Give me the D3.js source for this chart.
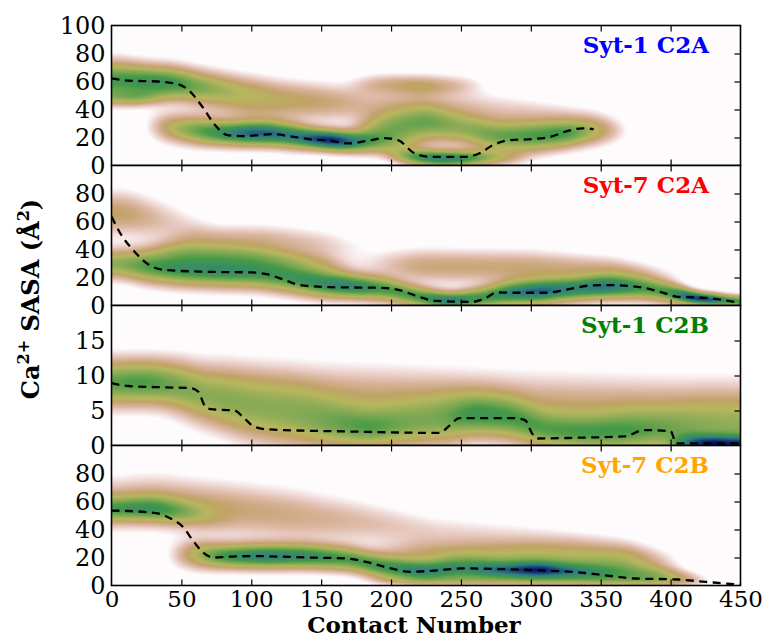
<!DOCTYPE html>
<html><head><meta charset="utf-8">
<script src="https://cdn.jsdelivr.net/npm/d3@7"></script>
<style>body{margin:0;background:#fff} svg{display:block} text{font-family:"DejaVu Serif",serif}</style>
</head><body><svg id="c" width="762" height="639"></svg>
<script>
// ---------------- data ----------------
const xTickValues = [0, 50, 100, 150, 200, 250, 300, 350, 400, 450];
const panelNames = ["Syt-1 C2A", "Syt-7 C2A", "Syt-1 C2B", "Syt-7 C2B"];
const panelColors = ["#0000ff", "#ff0000", "#008000", "#ffa500"];
const panelYMax = [100, 100, 20, 100];
const panelYLabels = [[0, 20, 40, 60, 80, 100], [0, 20, 40, 60, 80], [0, 5, 10, 15], [0, 20, 40, 60, 80]];
const panelYInner = [[20, 40, 60, 80], [20, 40, 60, 80], [5, 10, 15], [20, 40, 60, 80]];

// dashed curves [contact number, SASA]
const lineS1C2A = [[0,62.3],[12,60.6],[33,60],[47,58.2],[55,54],[65,42],[74,29],[83,21.7],[95,21],[115,22.4],[127,21],[141,18.9],[156,17.7],[170,15.8],[182,17.4],[195,19.6],[205,18.1],[217,8.6],[229,6.2],[252,6.2],[263,8.6],[273,14.6],[285,18.1],[302,18.9],[314,20.5],[326,24.6],[337,26.5],[345,26]];
const lineS7C2A = [[0,63.5],[7,50.4],[15.5,39.6],[27,28.9],[39,25.3],[68,24.1],[100,23.6],[112,22.2],[124,18.1],[135,14.6],[156,13.1],[194,12.6],[206,11],[220,6.2],[232,3.3],[258,2.6],[267,5],[276,9.3],[288,9.1],[311,9.1],[326,11.5],[343,14.3],[355,14.6],[381,12.6],[396,8.6],[405,6.2],[425,5.5],[446,2.6],[450,2]];
const lineS1C2B = [[0,8.9],[12,8.5],[39,8.3],[56,8.2],[62,7.7],[67,5.6],[71,5.2],[88,5.0],[94,4.1],[102,2.7],[112,2.3],[170,2.0],[235,1.8],[241,2.7],[249,3.9],[258,3.9],[288,3.9],[296,3.6],[301,1.7],[305,1.0],[331,1.1],[367,1.3],[381,2.2],[400,2.05],[404,0.3],[450,0.3]];
const lineS7C2B = [[0,53.5],[12,53.2],[33,51.5],[42,48],[51,42],[58,32.5],[65,24],[73,20],[83,20.5],[100,21],[141,20],[168,19.3],[182,16.9],[197,12.9],[214,9.8],[229,10.5],[252,12.2],[279,11.7],[302,11],[337,9.1],[352,7.4],[375,5],[405,4.3],[425,2.6],[446,1],[450,0.8]];

// density ridges: knots [contact number, centre SASA, spread SASA, density level 0..1]
const densS1C2A = [
  [[-10,62,9,0.5],[5,61,9,0.58],[25,60,8,0.62],[45,59,8,0.6],[65,56,8,0.45],[90,53,8,0.3],[120,50,8,0.17],[160,46,8,0.09],[190,42,6,0]],
  [[-5,48,4,0],[5,49,4,0.3],[20,49,4,0.35],[35,50,4,0.15],[45,50,4,0]],
  [[25,28,7,0],[40,27,7,0.3],[60,25,7,0.5],[80,23,6,0.65],[100,23,6,0.82],[115,23,6,0.8],[130,21,6,0.7],[145,19,5,0.85],[158,18,5,0.98],[172,17,5,0.75],[190,18,6,0.45],[210,18,7,0.2],[230,18,7,0]],
  [[195,9,4,0],[215,6,4,0.55],[235,5,4,0.75],[255,5,4,0.6],[275,6,4,0.3],[300,6,4,0]],
  [[170,26,8,0],[195,28,9,0.4],[225,31,9,0.5],[250,27,8,0.4],[275,21,8,0.5],[300,21,8,0.55],[325,23,7,0.6],[345,25,7,0.35],[370,25,6,0]],
  [[165,57,5,0],[190,58,5,0.17],[222,57,5,0.26],[250,57,5,0.13],[270,57,5,0]],
  [[50,45,8,0],[100,42,9,0.16],[150,44,9,0.14],[200,44,8,0.12],[260,41,8,0.12],[320,37,6,0.08],[360,35,5,0]]
];
const densS7C2A = [
  [[-10,66,10,0.25],[10,66,10,0.25],[30,62,10,0.16],[55,58,8,0.07],[75,55,6,0]],
  [[30,46,6,0],[60,47,7,0.17],[110,47,7,0.17],[150,44,7,0.12],[190,40,6,0]],
  [[-10,29,7,0.3],[5,30,7,0.42],[25,28,8,0.55],[50,26,8,0.62],[80,25,8,0.65],[105,24,8,0.6],[125,21,8,0.58],[150,16,7,0.66],[170,14,6,0.72],[195,12,6,0.55],[220,6,5,0.55],[242,3,4,0.78],[262,5,5,0.55],[285,9,6,0.7],[305,10,6,0.82],[330,12,6,0.68],[355,14,6,0.78],[380,13,6,0.55],[400,9,5,0.55],[418,5,3,0.97],[435,4,3,0.75],[455,2,2.5,0.35]],
  [[20,38,5,0],[50,37,6,0.3],[100,35,6,0.3],[150,30,6,0.2],[180,26,6,0]],
  [[170,30,7,0],[220,28,8,0.22],[300,27,8,0.22],[360,26,6,0.17],[420,18,5,0]]
];
const densS1C2B = [
  [[-10,8.8,2.2,0.45],[10,9,2.2,0.55],[30,9,2.2,0.55],[50,8.5,2.4,0.45],[70,7,2.7,0.32],[100,5,3,0.32],[130,4,3,0.34],[160,3,2.4,0.44],[185,2.5,2,0.52],[210,3,2.2,0.4],[235,3.5,2.4,0.37],[260,4.5,2,0.52],[285,4,2,0.47],[310,2.2,1.8,0.47],[340,1.8,1.8,0.52],[370,2,2,0.5],[395,2.2,2,0.42],[420,2.5,2.2,0.32],[460,2.5,2.2,0.27]],
  [[40,7,3,0],[80,7.5,3,0.2],[130,7,3,0.22],[200,6.5,3,0.22],[300,5.5,3,0.22],[400,5,3,0.22],[460,5,3,0.22]],
  [[398,0.4,0.8,0],[412,0.4,0.9,0.75],[430,0.3,0.9,1.0],[448,0.3,0.9,0.85],[460,0.3,0.9,0.8]]
];
const densS7C2B = [
  [[-10,54,6,0.42],[10,55,6,0.5],[30,55,6,0.55],[48,53,6,0.38],[70,50,6,0.12],[90,48,6,0]],
  [[-10,58,12,0.18],[30,60,12,0.23],[80,55,12,0.23],[130,50,12,0.2],[180,45,10,0.15],[230,38,8,0.1],[280,35,8,0.08],[330,32,6,0.07],[380,30,6,0]],
  [[40,22,7,0],[60,22,7,0.35],[80,21,6,0.6],[110,21,6,0.72],[140,21,6,0.66],[170,19,6,0.55],[195,13,6,0.58],[222,10,5,0.72],[250,12,6,0.62],[280,11,5,0.78],[305,11,5,0.98],[330,10,5,0.72],[360,9,6,0.52],[390,7,5,0.42],[412,5,4,0.2],[430,3,3,0]],
  [[180,22,6,0],[220,22,7,0.22],[300,22,7,0.3],[370,20,7,0.3],[410,15,6,0]],
  [[180,4,2,0],[220,4,2,0.2],[300,4,2,0.2],[380,4,2,0.15],[420,3,2,0]]
];
const panelLines = [lineS1C2A, lineS7C2A, lineS1C2B, lineS7C2B];
const panelDens = [densS1C2A, densS7C2A, densS1C2B, densS7C2B];

// ---------------- colormap (gist_earth, reversed) ----------------
const GE = {
  r: [[0,0],[0.2824,0.1882],[0.4588,0.2714],[0.5490,0.4719],[0.6980,0.7176],[0.7882,0.7553],[1,0.9922]],
  g: [[0,0],[0.0275,0],[0.1098,0.1893],[0.1647,0.3035],[0.2078,0.3841],[0.2824,0.5020],[0.5216,0.6397],[0.6980,0.7171],[0.7882,0.6392],[0.8157,0.6549],[0.8667,0.6991],[0.8980,0.7430],[0.9412,0.8275],[0.9569,0.8635],[0.9647,0.8816],[0.9961,0.9733],[1,0.9843]],
  b: [[0,0],[0.0039,0.1684],[0.0078,0.2212],[0.0275,0.4329],[0.0314,0.4549],[0.2824,0.5004],[0.4667,0.2748],[0.5451,0.3205],[0.7843,0.3961],[0.8941,0.6651],[1,0.9843]]
};
function segv(arr, v) {
  for (let i = 0; i < arr.length - 1; i++) {
    if (v <= arr[i+1][0]) { const f = (v - arr[i][0]) / (arr[i+1][0] - arr[i][0]); return arr[i][1] + f * (arr[i+1][1] - arr[i][1]); }
  }
  return arr[arr.length-1][1];
}
const LUT = d3.range(256).map(i => { const v = 1 - i / 255; return [segv(GE.r, v)*255, segv(GE.g, v)*255, segv(GE.b, v)*255]; });
const FLOOR = 0.045;

// ---------------- layout ----------------
const svg = d3.select("#c");
const X0 = 111.5, X1 = 740.5, TOP = 25.5, PH = 140;
const x = d3.scaleLinear().domain([0, 450]).range([X0, X1]);
const defs = svg.append("defs");
const NUM_FONT = "Liberation Serif";

function ridgeParams(knots, xs) {
  const n = xs.length, c = new Float64Array(n), s = new Float64Array(n), a = new Float64Array(n);
  for (let i = 0; i < n; i++) {
    const xv = xs[i];
    if (xv <= knots[0][0]) { c[i] = knots[0][1]; s[i] = knots[0][2]; a[i] = 0; continue; }
    const L = knots[knots.length-1];
    if (xv >= L[0]) { c[i] = L[1]; s[i] = L[2]; a[i] = 0; continue; }
    let k = 0; while (knots[k+1][0] < xv) k++;
    const f = (xv - knots[k][0]) / (knots[k+1][0] - knots[k][0]);
    c[i] = knots[k][1] + f*(knots[k+1][1]-knots[k][1]);
    s[i] = knots[k][2] + f*(knots[k+1][2]-knots[k][2]);
    a[i] = knots[k][3] + f*(knots[k+1][3]-knots[k][3]);
  }
  const sm = arr => { const r = 10; for (let p = 0; p < 2; p++) { const out = new Float64Array(n); for (let i = 0; i < n; i++) { let sum = 0, cnt = 0; for (let j = Math.max(0,i-r); j <= Math.min(n-1,i+r); j++) { sum += arr[j]; cnt++; } out[i] = sum / cnt; } arr.set(out); } };
  sm(c); sm(s); sm(a);
  return {c, s, a};
}

panelNames.forEach((name, p) => {
  const top = TOP + p * PH, bot = top + PH;
  const y = d3.scaleLinear().domain([0, panelYMax[p]]).range([bot, top]);
  const g = svg.append("g");
  const W = Math.round(X1 - X0), H = PH;
  const cv = document.createElement("canvas"); cv.width = W; cv.height = H;
  const ctx = cv.getContext("2d"); const img = ctx.createImageData(W, H);
  const xs = d3.range(W).map(i => x.invert(X0 + i + 0.5));
  const ys = d3.range(H).map(j => y.invert(top + j + 0.5));
  const rp = panelDens[p].map(k => ridgeParams(k, xs));
  for (let i = 0; i < W; i++) {
    for (let j = 0; j < H; j++) {
      let prod = 1;
      for (const r of rp) { if (r.a[i] <= 0) continue; const d = (ys[j] - r.c[i]) / r.s[i]; prod *= 1 - Math.min(1, r.a[i]) * Math.exp(-0.5*d*d); }
      let t = 1 - prod;
      t = Math.max(0, Math.min(1, (t - FLOOR) / (1 - FLOOR)));
      const col = LUT[Math.round(t * 255)];
      const o = (j * W + i) * 4;
      img.data[o] = col[0]; img.data[o+1] = col[1]; img.data[o+2] = col[2]; img.data[o+3] = 255;
    }
  }
  ctx.putImageData(img, 0, 0);
  g.append("image").attr("x", X0).attr("y", top).attr("width", W).attr("height", H)
    .attr("preserveAspectRatio", "none").attr("href", cv.toDataURL());

  defs.append("clipPath").attr("id", "clip" + p).append("rect").attr("x", X0).attr("y", top).attr("width", X1 - X0).attr("height", PH);
  g.append("path").datum(panelLines[p]).attr("clip-path", `url(#clip${p})`)
    .attr("fill", "none").attr("stroke", "#000").attr("stroke-width", 2.3).attr("stroke-dasharray", "8,5.5")
    .attr("d", d3.line().x(d => x(d[0])).y(d => y(d[1])).curve(d3.curveMonotoneX));

  const inner = sel => sel.call(s => s.select(".domain").remove()).selectAll("line").attr("stroke", "#000").attr("stroke-width", 1.2);
  g.append("g").attr("transform", `translate(0,${top})`).call(d3.axisBottom(x).tickValues(xTickValues.slice(1, -1)).tickSize(6).tickFormat("")).call(inner);
  g.append("g").attr("transform", `translate(0,${bot})`).call(d3.axisTop(x).tickValues(xTickValues.slice(1, -1)).tickSize(6).tickFormat("")).call(inner);
  g.append("g").attr("transform", `translate(${X1},0)`).call(d3.axisLeft(y).tickValues(panelYInner[p]).tickSize(6).tickFormat("")).call(inner);

  const yl = g.append("g").attr("transform", `translate(${X0},0)`).call(d3.axisLeft(y).tickValues(panelYLabels[p]).tickSize(0).tickPadding(6));
  yl.select(".domain").remove();
  yl.selectAll("text").attr("font-family", NUM_FONT).attr("font-size", 24).attr("fill", "#000").attr("dy", "0.34em");

  g.append("rect").attr("x", X0).attr("y", top).attr("width", X1 - X0).attr("height", PH)
    .attr("fill", "none").attr("stroke", "#000").attr("stroke-width", 1.6);

  g.append("text").attr("x", 709).attr("y", top + 27).attr("text-anchor", "end")
    .attr("font-family", "DejaVu Serif").attr("font-weight", "bold").attr("font-size", 23)
    .attr("fill", panelColors[p]).text(name);

  if (p === 3) {
    const xa = g.append("g").attr("transform", `translate(0,${bot})`).call(d3.axisBottom(x).tickValues(xTickValues).tickSize(0).tickPadding(0));
    xa.select(".domain").remove();
    xa.selectAll("text").attr("font-family", NUM_FONT).attr("font-size", 23).attr("fill", "#000").attr("y", 21).attr("dy", 0);
  }
});

svg.append("text").attr("x", 414).attr("y", 633).attr("text-anchor", "middle")
  .attr("font-weight", "bold").attr("font-size", 23).text("Contact Number");
const yt = svg.append("text").attr("transform", "translate(39,299) rotate(-90)").attr("text-anchor", "middle")
  .attr("font-weight", "bold").attr("font-size", 24);
yt.append("tspan").text("Ca");
yt.append("tspan").attr("font-size", 16).attr("dy", -10).text("2+");
yt.append("tspan").attr("dy", 10).text(" SASA (Å");
yt.append("tspan").attr("font-size", 16).attr("dy", -10).text("2");
yt.append("tspan").attr("dy", 10).text(")");
</script></body></html>
